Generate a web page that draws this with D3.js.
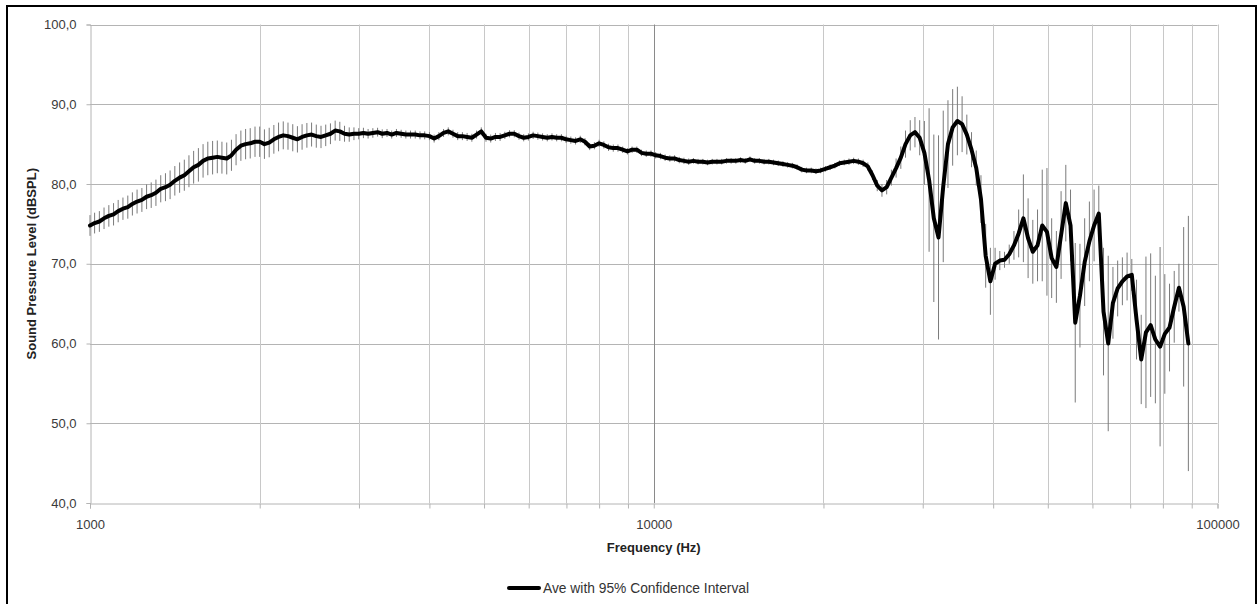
<!DOCTYPE html>
<html>
<head>
<meta charset="utf-8">
<script src="https://cdn.jsdelivr.net/npm/d3@7"></script>
<style>
  html, body { margin: 0; padding: 0; background: #fff; }
  svg { display: block; }
  text { font-family: "Liberation Sans", Arial, sans-serif; }
</style>
</head>
<body>
<svg id="chart" width="1259" height="604"></svg>
<script>
// Frequencies (Hz), 1/36-octave grid
const frequencies = [
  1000,1019,1039,1059,1080,1101,1122,1144,1167,1189,1212,1236,1260,1284,1309,1335,1361,1387,1414,1442,1470,1498,1527,1557,1587,1618,1650,1682,1714,1748,1782,1816,1852,1888,1924,1962,
  2000,2039,2079,2119,2160,2202,2245,2289,2333,2378,2425,2472,2520,2569,2619,2670,2722,2774,2828,2883,2939,2997,3055,3114,3175,3237,3299,3364,3429,3496,3564,3633,3703,3775,3849,3924,
  4000,4078,4157,4238,4320,4404,4490,4577,4666,4757,4849,4944,5040,5138,5238,5339,5443,5549,5657,5767,5879,5993,6110,6229,6350,6473,6599,6727,6858,6991,7127,7266,7407,7551,7698,7847,
  8000,8156,8314,8476,8640,8808,8980,9154,9332,9514,9699,9887,10079,10275,10475,10679,10886,11098,11314,11534,11758,11986,12220,12457,12699,12946,13198,13454,13716,13983,14254,14532,14814,15102,15396,15695,
  16000,16311,16628,16951,17281,17617,17959,18308,18664,19027,19397,19774,20159,20551,20950,21357,21773,22196,22627,23067,23516,23973,24439,24914,25398,25892,26396,26909,27432,27965,28509,29063,29628,30204,30791,31390,
  32000,32622,33256,33903,34562,35234,35919,36617,37329,38055,38795,39549,40317,41101,41900,42715,43545,44392,45255,46135,47031,47946,48878,49828,50797,51784,52791,53817,54864,55930,57017,58126,59256,60408,61582,62780,
  64000,65244,66513,67806,69124,70468,71837,73234,74658,76109,77589,79098,80635,82203,83800,85430,87091,88784
];

// Average sound pressure level (dBSPL)
const averageSPL = [
  74.8,75.1,75.3,75.7,76.0,76.2,76.6,76.9,77.1,77.5,77.8,78.0, 78.4,78.6,78.9,79.4,79.6,79.9,80.4,80.8,81.1,81.6,82.1,82.4, 82.9,83.2,83.3,83.4,83.3,83.2,83.6,84.3,84.8,85.0,85.1,85.3,
  85.3,85.0,85.2,85.6,85.9,86.1,86.0,85.8,85.6,85.9,86.1,86.2, 86.0,85.9,86.1,86.3,86.7,86.6,86.3,86.2,86.3,86.3,86.4,86.3, 86.4,86.5,86.3,86.4,86.2,86.4,86.3,86.2,86.2,86.2,86.1,86.1,
  86.0,85.7,86.0,86.4,86.6,86.3,86.0,86.0,85.9,85.8,86.2,86.6, 85.8,85.7,85.9,85.9,86.1,86.3,86.3,86.0,85.8,85.9,86.1,86.0, 85.9,85.8,85.9,85.8,85.8,85.6,85.5,85.4,85.6,85.3,84.7,84.8,
  85.1,84.9,84.6,84.5,84.5,84.3,84.1,84.3,84.3,83.9,83.8,83.8, 83.6,83.5,83.3,83.2,83.2,83.0,82.9,82.8,82.9,82.8,82.8,82.7, 82.8,82.8,82.8,82.9,82.9,82.9,83.0,82.9,83.1,82.9,82.9,82.8,
  82.8,82.7,82.6,82.5,82.4,82.3,82.1,81.8,81.7,81.7,81.6,81.7, 81.9,82.1,82.3,82.6,82.7,82.8,82.9,82.8,82.6,82.2,81.1,79.8, 79.2,79.6,80.8,82.0,83.3,85.0,86.1,86.5,85.8,83.9,80.5,75.7,
  73.3,79.7,85.0,87.1,87.9,87.5,86.2,84.3,82.0,78.1,71.0,67.8, 70.0,70.4,70.5,71.2,72.3,73.8,75.7,73.2,71.5,72.3,74.8,74.0, 70.7,69.6,73.6,77.6,74.8,62.6,66.0,70.2,72.8,74.8,76.3,64.0,
  60.0,65.1,66.9,67.8,68.4,68.6,63.0,58.0,61.4,62.3,60.5,59.6,61.2,62.0,64.6,67.0,64.6,60.0
];

// 95% confidence interval half-width (dB)
const confidence95 = [
  1.3,1.3,1.3,1.35,1.35,1.4,1.4,1.4,1.45,1.45,1.5,1.5, 1.55,1.6,1.65,1.7,1.75,1.8,1.85,1.9,1.95,2.0,2.05,2.1, 2.1,2.1,2.1,2.05,2.0,2.0,1.95,1.95,1.9,1.9,1.9,1.9,
  1.9,1.85,1.85,1.8,1.8,1.75,1.7,1.7,1.65,1.6,1.55,1.5, 1.45,1.4,1.35,1.3,1.25,1.2,1.0,0.9,0.8,0.7,0.65,0.6, 0.6,0.55,0.55,0.5,0.5,0.5,0.5,0.5,0.5,0.5,0.5,0.5,
  0.5,0.5,0.5,0.5,0.5,0.5,0.5,0.5,0.5,0.5,0.5,0.5, 0.5,0.5,0.5,0.5,0.45,0.45,0.45,0.45,0.45,0.45,0.45,0.45, 0.45,0.45,0.45,0.45,0.45,0.45,0.45,0.45,0.45,0.45,0.45,0.45,
  0.45,0.45,0.45,0.45,0.45,0.4,0.4,0.4,0.4,0.4,0.4,0.4, 0.4,0.4,0.4,0.4,0.4,0.4,0.4,0.4,0.35,0.35,0.35,0.35, 0.35,0.35,0.35,0.35,0.35,0.35,0.35,0.35,0.35,0.35,0.35,0.35,
  0.35,0.35,0.35,0.35,0.35,0.35,0.35,0.35,0.35,0.35,0.35,0.35, 0.35,0.35,0.35,0.35,0.35,0.4,0.4,0.4,0.45,0.5,0.6,0.7, 0.8,0.9,1.0,1.2,1.4,1.7,1.9,1.9,2.2,4.0,9.0,10.5,
  12.8,9.5,5.5,4.8,4.3,3.5,2.5,2.2,2.2,3.0,4.0,4.2, 2.0,1.2,1.0,1.2,1.8,3.0,5.5,5.0,4.0,4.5,7.0,8.0, 5.0,4.5,5.5,4.8,4.5,10.0,6.5,5.5,5.0,4.5,3.5,8.0,
  11.0,4.5,3.5,3.0,3.0,2.0,5.0,5.6,9.5,9.0,8.0,12.5,7.5,5.5,4.5,3.0,10.0,16.0
];

const yTicks = [40, 50, 60, 70, 80, 90, 100];
const xLabelTicks = [1000, 10000, 100000];
const xMinorTicks = [2000,3000,4000,5000,6000,7000,8000,9000,10000,20000,30000,40000,50000,60000,70000,80000,90000,100000];
const seriesName = "Ave with 95% Confidence Interval";
const xTitle = "Frequency (Hz)";
const yTitle = "Sound Pressure Level (dBSPL)";

const data = frequencies.map((f, i) => ({ f, v: averageSPL[i], ci: confidence95[i] }));

const svg = d3.select("#chart");
const plot = { left: 90, right: 1217.5, top: 24.5, bottom: 503 };

const x = d3.scaleLog().domain([1000, 100000]).range([plot.left, plot.right]);
const y = d3.scaleLinear().domain([40, 100]).range([plot.bottom, plot.top]);

// outer border
svg.append("rect")
  .attr("x", 7).attr("y", 6).attr("width", 1249).attr("height", 620)
  .attr("fill", "none").attr("stroke", "#000").attr("stroke-width", 2);

// horizontal gridlines
svg.append("g").selectAll("line").data(yTicks.filter(d => d > 40)).join("line")
  .attr("x1", plot.left).attr("x2", plot.right)
  .attr("y1", d => Math.round(y(d)) + 0.5).attr("y2", d => Math.round(y(d)) + 0.5)
  .attr("stroke", "#b4b4b4").attr("stroke-width", 1);

// vertical gridlines
svg.append("g").selectAll("line").data(xMinorTicks).join("line")
  .attr("x1", d => Math.round(x(d)) + 0.5).attr("x2", d => Math.round(x(d)) + 0.5)
  .attr("y1", plot.top).attr("y2", plot.bottom)
  .attr("stroke", d => d === 10000 ? "#8a8a8a" : "#c8c8c8").attr("stroke-width", 1);

// y axis
const yAxis = svg.append("g")
  .attr("transform", `translate(${plot.left + 0.5},0)`)
  .call(d3.axisLeft(y).tickValues(yTicks).tickSize(4).tickPadding(10)
    .tickFormat(d => d.toFixed(1).replace(".", ",")));
yAxis.select(".domain").attr("stroke", "#b4b4b4");
yAxis.selectAll(".tick line").attr("stroke", "#b4b4b4");
yAxis.selectAll("text").attr("font-size", 13).attr("fill", "#3a3a3a")
  .attr("font-family", "'Liberation Sans', Arial, sans-serif");

// x axis
const xAxis = svg.append("g")
  .attr("transform", `translate(0,${Math.round(plot.bottom) + 0.5})`)
  .call(d3.axisBottom(x).tickValues([1000].concat(xMinorTicks)).tickSize(5).tickPadding(11)
    .tickFormat(d => xLabelTicks.includes(d) ? String(d) : ""));
xAxis.select(".domain").attr("stroke", "#b4b4b4");
xAxis.selectAll(".tick line").attr("stroke", "#b4b4b4");
xAxis.selectAll("text").attr("font-size", 13).attr("fill", "#3a3a3a")
  .attr("font-family", "'Liberation Sans', Arial, sans-serif");

// error bars
svg.append("g").selectAll("line").data(data).join("line")
  .attr("x1", d => x(d.f)).attr("x2", d => x(d.f))
  .attr("y1", d => y(d.v + d.ci)).attr("y2", d => y(d.v - d.ci))
  .attr("stroke", "#7a7a7a").attr("stroke-width", 1);

// average line
const line = d3.line().x(d => x(d.f)).y(d => y(d.v));
svg.append("path").datum(data)
  .attr("d", line).attr("fill", "none")
  .attr("stroke", "#000").attr("stroke-width", 4)
  .attr("stroke-linejoin", "round").attr("stroke-linecap", "round");

// axis titles
svg.append("text")
  .attr("x", (plot.left + plot.right) / 2).attr("y", 552)
  .attr("text-anchor", "middle").attr("font-size", 13).attr("font-weight", "bold")
  .attr("fill", "#222").text(xTitle);

svg.append("text")
  .attr("transform", `translate(36,${(plot.top + plot.bottom) / 2}) rotate(-90)`)
  .attr("text-anchor", "middle").attr("font-size", 13).attr("font-weight", "bold")
  .attr("fill", "#222").text(yTitle);

// legend
const legend = svg.append("g");
legend.append("line")
  .attr("x1", 509).attr("x2", 539).attr("y1", 588).attr("y2", 588)
  .attr("stroke", "#000").attr("stroke-width", 4).attr("stroke-linecap", "round");
legend.append("text")
  .attr("x", 543).attr("y", 592.5).attr("font-size", 13.8).attr("fill", "#333")
  .text(seriesName);
</script>
</body>
</html>
